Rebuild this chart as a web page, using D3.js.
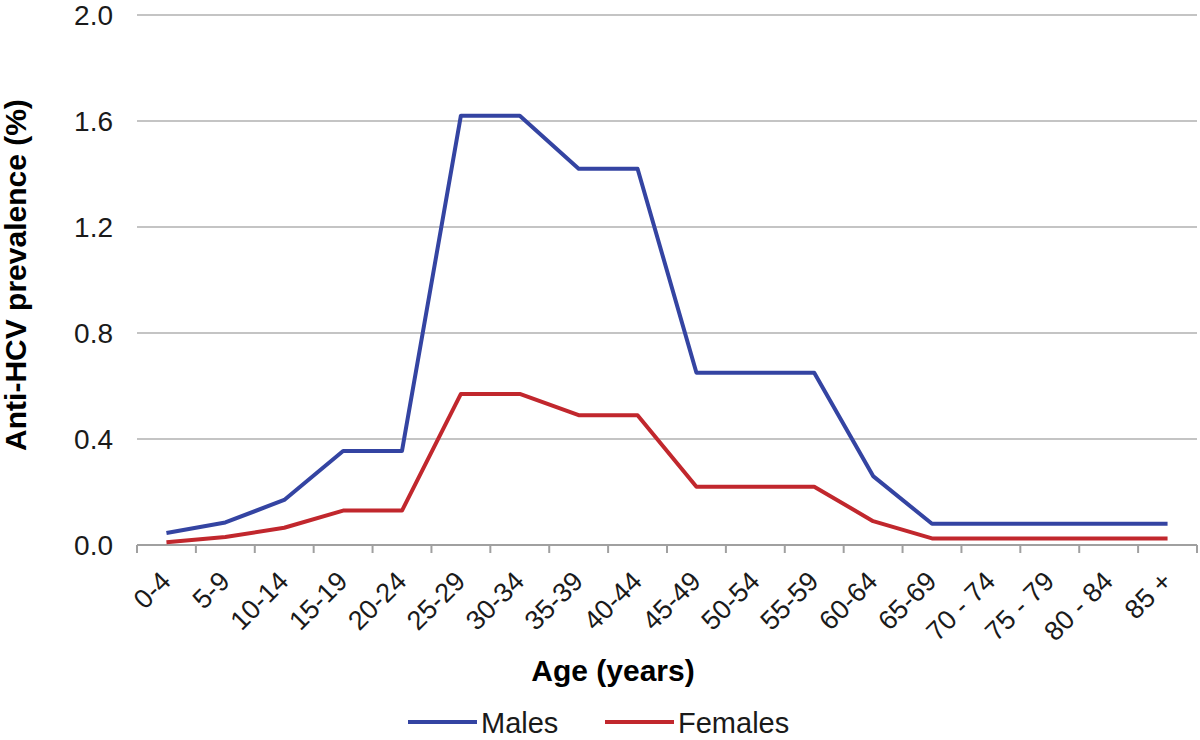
<!DOCTYPE html>
<html>
<head>
<meta charset="utf-8">
<script src="https://cdn.jsdelivr.net/npm/d3@7"></script>
<style>
  body { margin: 0; background: #fff; }
  svg { font-family: "Liberation Sans", Arial, sans-serif; }
</style>
</head>
<body>
<svg width="1200" height="740"></svg>
<script>
const ageGroups = ['0-4', '5-9', '10-14', '15-19', '20-24', '25-29', '30-34', '35-39', '40-44',
    '45-49', '50-54', '55-59', '60-64', '65-69', '70 - 74', '75 - 79', '80 - 84', '85 +'];

const males   = [0.045, 0.085, 0.17, 0.355, 0.355, 1.62, 1.62, 1.42, 1.42, 0.65, 0.65, 0.65, 0.26, 0.08, 0.08, 0.08, 0.08, 0.08];
const females = [0.01, 0.03, 0.065, 0.13, 0.13, 0.57, 0.57, 0.49, 0.49, 0.22, 0.22, 0.22, 0.09, 0.025, 0.025, 0.025, 0.025, 0.025];

const yTicks = [0, 0.4, 0.8, 1.2, 1.6, 2.0];

const series = [
    { name: 'Males',   values: males,   color: '#3444a2' },
    { name: 'Females', values: females, color: '#c1272d' }
];

const margin = { left: 137, right: 3, top: 15, bottom: 195 };
const w = 1200, h = 740;

const svg = d3.select('svg');

const x = d3.scaleBand()
    .domain(ageGroups)
    .range([margin.left, w - margin.right]);

const y = d3.scaleLinear()
    .domain([0, 2])
    .range([h - margin.bottom, margin.top]);

// grid
svg.append('g')
    .selectAll('line')
    .data(yTicks.slice(1))
    .join('line')
    .attr('x1', margin.left)
    .attr('x2', w - margin.right)
    .attr('y1', d => y(d))
    .attr('y2', d => y(d))
    .attr('stroke', '#c4c4c4')
    .attr('stroke-width', 2);

// y labels
svg.append('g')
    .selectAll('text')
    .data(yTicks)
    .join('text')
    .attr('x', 113)
    .attr('y', d => y(d))
    .attr('dy', '0.35em')
    .attr('text-anchor', 'end')
    .attr('font-size', 28)
    .attr('fill', '#1a1a1a')
    .text(d => d.toFixed(1));

// x axis
const xAxis = svg.append('g')
    .attr('transform', `translate(0,${y(0)})`);

xAxis.append('line')
    .attr('x1', margin.left)
    .attr('x2', w - margin.right)
    .attr('stroke', '#a0a0a0')
    .attr('stroke-width', 2);

const bounds = ageGroups.map(d => x(d)).concat([w - margin.right]);

xAxis.selectAll('.tick')
    .data(bounds)
    .join('line')
    .attr('class', 'tick')
    .attr('x1', d => d)
    .attr('x2', d => d)
    .attr('y1', 0)
    .attr('y2', 8)
    .attr('stroke', '#a0a0a0')
    .attr('stroke-width', 2);

xAxis.selectAll('text')
    .data(ageGroups)
    .join('text')
    .attr('transform', d => `translate(${x(d) + x.bandwidth() / 2 + 6},${38}) rotate(-45)`)
    .attr('text-anchor', 'end')
    .attr('font-size', 27)
    .attr('fill', '#1a1a1a')
    .text(d => d);

// lines
const line = d3.line()
    .x((d, i) => x(ageGroups[i]) + x.bandwidth() / 2)
    .y(d => y(d));

svg.append('g')
    .selectAll('path')
    .data(series)
    .join('path')
    .attr('d', d => line(d.values))
    .attr('fill', 'none')
    .attr('stroke', d => d.color)
    .attr('stroke-width', 4)
    .attr('stroke-linejoin', 'round');

// axis titles
svg.append('text')
    .attr('x', 613)
    .attr('y', 681)
    .attr('text-anchor', 'middle')
    .attr('font-size', 30)
    .attr('font-weight', 'bold')
    .text('Age (years)');

svg.append('text')
    .attr('transform', `translate(26,${275}) rotate(-90)`)
    .attr('text-anchor', 'middle')
    .attr('font-size', 30)
    .attr('font-weight', 'bold')
    .text('Anti-HCV prevalence (%)');

// legend
const legend = svg.append('g')
    .selectAll('g')
    .data(series)
    .join('g')
    .attr('transform', (d, i) => `translate(${408 + i * 197},722)`);

legend.append('line')
    .attr('x1', 0)
    .attr('x2', 69)
    .attr('stroke', d => d.color)
    .attr('stroke-width', 4);

legend.append('text')
    .attr('x', 73)
    .attr('dy', '0.37em')
    .attr('font-size', 29)
    .attr('fill', '#1a1a1a')
    .text(d => d.name);
</script>
</body>
</html>
